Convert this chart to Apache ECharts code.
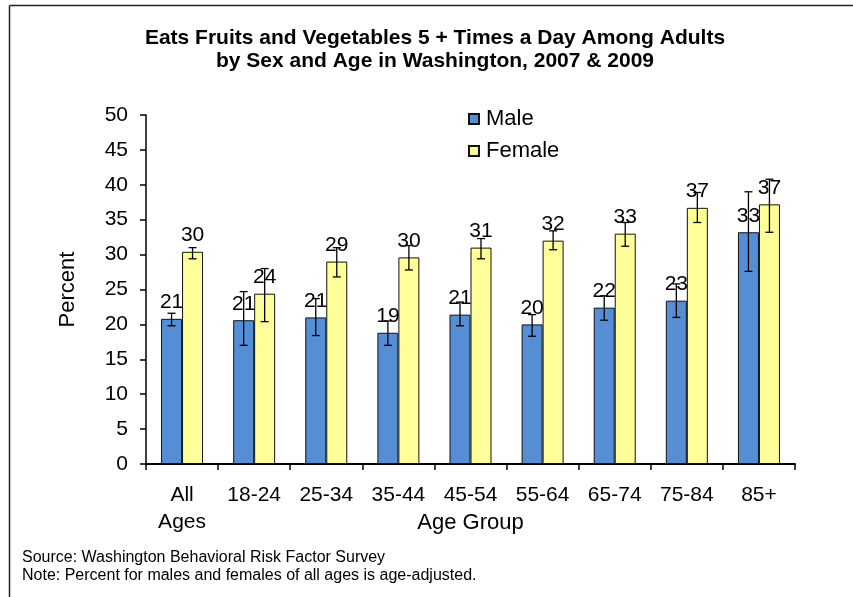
<!DOCTYPE html>
<html>
<head>
<meta charset="utf-8">
<script src="https://cdn.jsdelivr.net/npm/echarts@6/dist/echarts.min.js"></script>
<style>
  html, body { margin: 0; padding: 0; background: #fff; }
  #chart { width: 853px; height: 597px; }
</style>
</head>
<body>
<div id="chart"></div>
<script>
// age groups on the x axis
const categories = ['All\nAges', '18-24', '25-34', '35-44', '45-54', '55-64', '65-74', '75-84', '85+']

// percent values
const maleValues = [20.8, 20.6, 21.0, 18.8, 21.4, 20.0, 22.4, 23.4, 33.2]
const maleHigh = [21.6, 24.7, 23.7, 20.5, 23.2, 21.4, 24.1, 25.8, 39.0]
const maleLow = [19.8, 17.0, 18.4, 17.0, 19.8, 18.3, 20.6, 21.0, 27.6]

const femaleValues = [30.4, 24.4, 29.0, 29.6, 31.0, 32.0, 33.0, 36.7, 37.2]
const femaleHigh = [31.0, 28.0, 31.0, 31.3, 32.3, 33.4, 34.6, 38.9, 40.8]
const femaleLow = [29.4, 20.4, 26.8, 27.8, 29.4, 30.7, 31.2, 34.6, 33.2]

const FONT = '"Liberation Sans", Arial, sans-serif'
const FS = 21
const BAR_W = 21

// error bars: [category index, low, high]
function errorData (low, high) {
  return low.map((l, i) => [i, l, high[i]])
}

function renderError (offset) {
  return function (params, api) {
    const i = api.value(0)
    const lo = api.coord([i, api.value(1)])
    const hi = api.coord([i, api.value(2)])
    const x = lo[0] + offset
    const cap = 4
    const style = { stroke: '#000', lineWidth: 1.3 }
    return {
      type: 'group',
      children: [
        { type: 'line', shape: { x1: x, y1: hi[1], x2: x, y2: lo[1] }, style: style },
        { type: 'line', shape: { x1: x - cap, y1: hi[1], x2: x + cap, y2: hi[1] }, style: style },
        { type: 'line', shape: { x1: x - cap, y1: lo[1], x2: x + cap, y2: lo[1] }, style: style }
      ]
    }
  }
}

const myChart = echarts.init(document.getElementById('chart'))

const valueLabel = {
  show: true,
  position: 'top',
  distance: 6,
  fontFamily: FONT,
  fontSize: FS,
  color: '#000',
  formatter: p => Math.round(p.value)
}

const option = {
  backgroundColor: '#fff',
  animation: false,
  textStyle: { fontFamily: FONT, color: '#000' },
  title: {
    text: 'Eats Fruits and Vegetables 5 + Times a Day Among Adults\nby Sex and Age in Washington, 2007 & 2009',
    left: 430,
    textAlign: 'center',
    top: 22,
    textStyle: {
      fontFamily: FONT,
      fontSize: 21,
      fontWeight: 'bold',
      color: '#000',
      lineHeight: 23
    }
  },
  legend: {
    orient: 'vertical',
    left: 468,
    top: 108,
    padding: 0,
    itemWidth: 10,
    itemHeight: 10,
    itemGap: 10,
    icon: 'rect',
    textStyle: { fontFamily: FONT, fontSize: 22, color: '#000', lineHeight: 22, padding: [0, 0, 0, 2] },
    data: ['Male', 'Female']
  },
  grid: {
    left: 146,
    right: 58,
    top: 115,
    bottom: 133
  },
  xAxis: {
    type: 'category',
    data: categories,
    name: 'Age Group',
    nameLocation: 'middle',
    nameGap: 48,
    nameMoveOverlap: false,
    nameTextStyle: { fontFamily: FONT, fontSize: 22, color: '#000' },
    axisLine: { lineStyle: { color: '#000', width: 2 } },
    axisTick: { show: true, length: 6, lineStyle: { color: '#000', width: 1.5 } },
    axisLabel: {
      fontFamily: FONT,
      fontSize: FS,
      color: '#000',
      margin: 18,
      lineHeight: 27,
      interval: 0
    }
  },
  yAxis: {
    type: 'value',
    min: 0,
    max: 50,
    interval: 5,
    name: 'Percent',
    nameLocation: 'middle',
    nameGap: 67,
    nameMoveOverlap: false,
    nameTextStyle: { fontFamily: FONT, fontSize: 22, color: '#000' },
    splitLine: { show: false },
    axisLine: { show: true, lineStyle: { color: '#000', width: 1.5 } },
    axisTick: { show: true, length: 6, lineStyle: { color: '#000', width: 1.5 } },
    axisLabel: { fontFamily: FONT, fontSize: FS, color: '#000', margin: 18 }
  },
  series: [
    {
      name: 'Male',
      type: 'bar',
      data: maleValues,
      barWidth: BAR_W,
      barGap: '0%',
      itemStyle: { color: '#558ED5', borderColor: '#111', borderWidth: 1 },
      label: valueLabel
    },
    {
      name: 'Female',
      type: 'bar',
      data: femaleValues,
      barWidth: BAR_W,
      barGap: '0%',
      itemStyle: { color: '#FFFF99', borderColor: '#111', borderWidth: 1 },
      label: valueLabel
    },
    {
      type: 'custom',
      name: 'maleErr',
      data: errorData(maleLow, maleHigh),
      renderItem: renderError(-BAR_W / 2),
      encode: { x: 0, y: [1, 2] },
      z: 10,
      silent: true
    },
    {
      type: 'custom',
      name: 'femaleErr',
      data: errorData(femaleLow, femaleHigh),
      renderItem: renderError(BAR_W / 2),
      encode: { x: 0, y: [1, 2] },
      z: 10,
      silent: true
    }
  ],
  graphic: [
    // frame lines at the top and left edge
    { type: 'line', shape: { x1: 9.5, y1: 5.5, x2: 853, y2: 5.5 }, style: { stroke: '#222', lineWidth: 1.5 } },
    { type: 'line', shape: { x1: 9.5, y1: 5.5, x2: 9.5, y2: 597 }, style: { stroke: '#222', lineWidth: 1.5 } },
    {
      type: 'text',
      left: 22,
      top: 549,
      style: {
        text: 'Source: Washington Behavioral Risk Factor Survey\nNote: Percent for males and females of all ages is age-adjusted.',
        fontFamily: FONT,
        fontSize: 16,
        lineHeight: 18,
        fill: '#000'
      }
    }
  ]
}

myChart.setOption(option)
</script>
</body>
</html>
